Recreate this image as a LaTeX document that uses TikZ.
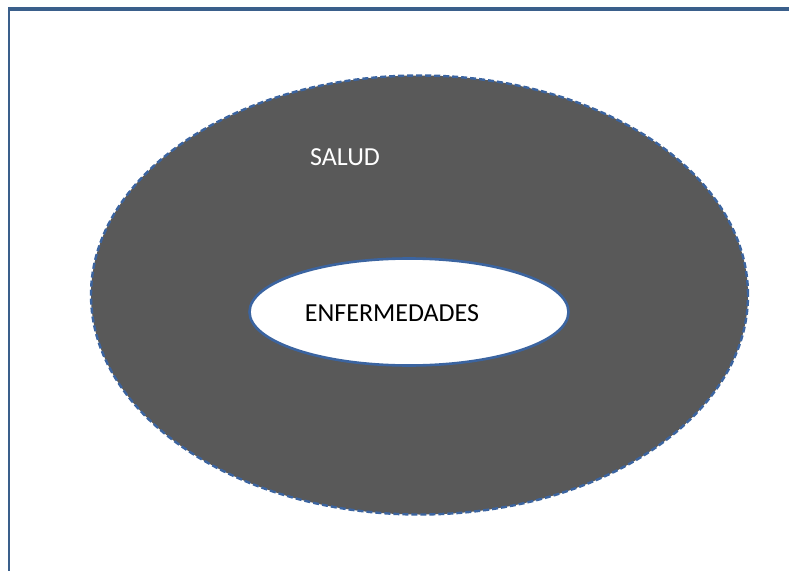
\documentclass[tikz,border=0pt]{standalone}
\usepackage{fontspec}
\setmainfont{Carlito}
\usetikzlibrary{shapes.geometric}
\definecolor{frameblue}{HTML}{3A5F8B}
\definecolor{edgeblue}{HTML}{3B64A0}
\definecolor{darkfill}{HTML}{595959}
\tikzset{
  outerring/.style={ellipse, draw=edgeblue, fill=darkfill, line width=2.4pt, dash pattern=on 6pt off 3pt, inner sep=0pt, outer sep=0pt},
  innerhole/.style={ellipse, draw=edgeblue, fill=white, line width=2.6pt, inner sep=0pt, outer sep=0pt},
  lbl/.style={inner sep=0pt, font=\fontsize{26}{30}\selectfont}
}
\begin{document}
\begin{tikzpicture}[x=1pt,y=1pt]
\useasboundingbox (0,0) rectangle (789,571);
% frame
\draw[frameblue, line width=4.5pt] (8,562) -- (789,562);
\draw[frameblue, line width=2.5pt] (9,564) -- (9,0);
% ellipses
\node[outerring, minimum width=657pt, minimum height=439pt] (salud) at (419.5,276) {};
\node[innerhole, minimum width=319pt, minimum height=107pt] (enf) at (409,259) {};
% labels
\node[lbl, text=white] (tsalud) at (345,414) {SALUD};
\node[lbl, text=black] (tenf) at (392,258) {ENFERMEDADES};
\end{tikzpicture}
\end{document}
